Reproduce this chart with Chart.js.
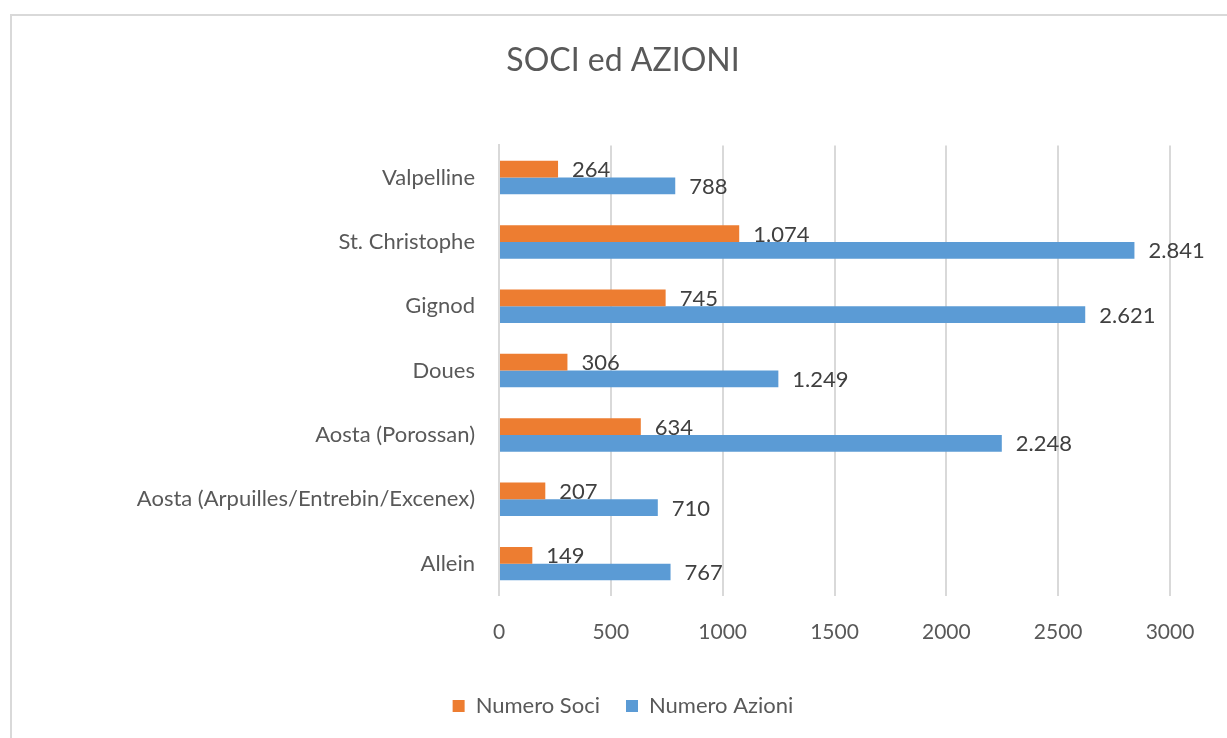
<!DOCTYPE html>
<html>
<head>
<meta charset="utf-8">
<script src="https://cdn.jsdelivr.net/npm/chart.js@4/dist/chart.umd.min.js"></script>
<style>
  html, body { margin: 0; padding: 0; background: #fff; }
  #wrap { width: 1227px; height: 738px; }
</style>
</head>
<body>
<div id="wrap"><canvas id="grafico"></canvas></div>
<script>
const comuni = [
  "Valpelline",
  "St. Christophe",
  "Gignod",
  "Doues",
  "Aosta (Porossan)",
  "Aosta (Arpuilles/Entrebin/Excenex)",
  "Allein",
];
const numeroSoci = [264, 1074, 745, 306, 634, 207, 149];
const numeroAzioni = [788, 2841, 2621, 1249, 2248, 710, 767];

const testo = "#595959";
const griglia = "#d9d9d9";

function formatta(n) {
  return String(n).replace(/\B(?=(\d{3})+(?!\d))/g, ".");
}

// bordo del grafico, come nel foglio excel
const cornice = {
  id: "cornice",
  beforeDraw(chart) {
    const ctx = chart.ctx;
    ctx.save();
    ctx.strokeStyle = griglia;
    ctx.lineWidth = 2;
    ctx.beginPath();
    ctx.moveTo(11, chart.height);
    ctx.lineTo(11, 15);
    ctx.lineTo(chart.width, 15);
    ctx.stroke();
    ctx.restore();
  },
};

// etichette dei valori a destra delle barre
const etichette = {
  id: "etichette",
  afterDatasetsDraw(chart) {
    const ctx = chart.ctx;
    ctx.save();
    ctx.font = "22px Lato";
    ctx.fillStyle = "#404040";
    ctx.textAlign = "left";
    ctx.textBaseline = "middle";
    chart.data.datasets.forEach((ds, i) => {
      chart.getDatasetMeta(i).data.forEach((bar, j) => {
        ctx.fillText(formatta(ds.data[j]), bar.x + 14, bar.y + 1);
      });
    });
    ctx.restore();
  },
};

let grafico = new Chart(document.getElementById("grafico"), {
  type: "bar",
  data: {
    labels: comuni,
    datasets: [
      {
        label: "Numero Soci",
        data: numeroSoci,
        backgroundColor: "#ed7d31",
        barPercentage: 1,
        categoryPercentage: 0.52,
      },
      {
        label: "Numero Azioni",
        data: numeroAzioni,
        backgroundColor: "#5b9bd5",
        barPercentage: 1,
        categoryPercentage: 0.52,
      },
    ],
  },
  options: {
    indexAxis: "y",
    responsive: true,
    maintainAspectRatio: false,
    animation: false,
    layout: {
      padding: { left: 76, right: 57, top: 0, bottom: 11 },
    },
    scales: {
      x: {
        min: 0,
        max: 3000,
        ticks: {
          stepSize: 500,
          color: testo,
          font: { family: "Lato", size: 21 },
          padding: 24,
          callback: (v) => String(v),
        },
        grid: { color: griglia, lineWidth: 2, drawTicks: false },
        border: { display: false },
      },
      y: {
        ticks: {
          color: testo,
          font: { family: "Lato", size: 22 },
          padding: 16,
        },
        grid: { display: false },
        border: { color: griglia, width: 2 },
        afterFit(scale) {
          scale.width = 423;
        },
      },
    },
    plugins: {
      title: {
        display: true,
        text: "SOCI ed AZIONI",
        color: testo,
        font: { family: "Lato", size: 32, weight: "normal" },
        padding: { top: 41, bottom: 66 },
      },
      legend: {
        display: true,
        position: "bottom",
        labels: {
          color: testo,
          font: { family: "Lato", size: 22 },
          boxWidth: 12,
          boxHeight: 12,
          padding: 26,
        },
      },
      tooltip: { enabled: false },
    },
  },
  plugins: [cornice, etichette],
});
</script>
</body>
</html>
